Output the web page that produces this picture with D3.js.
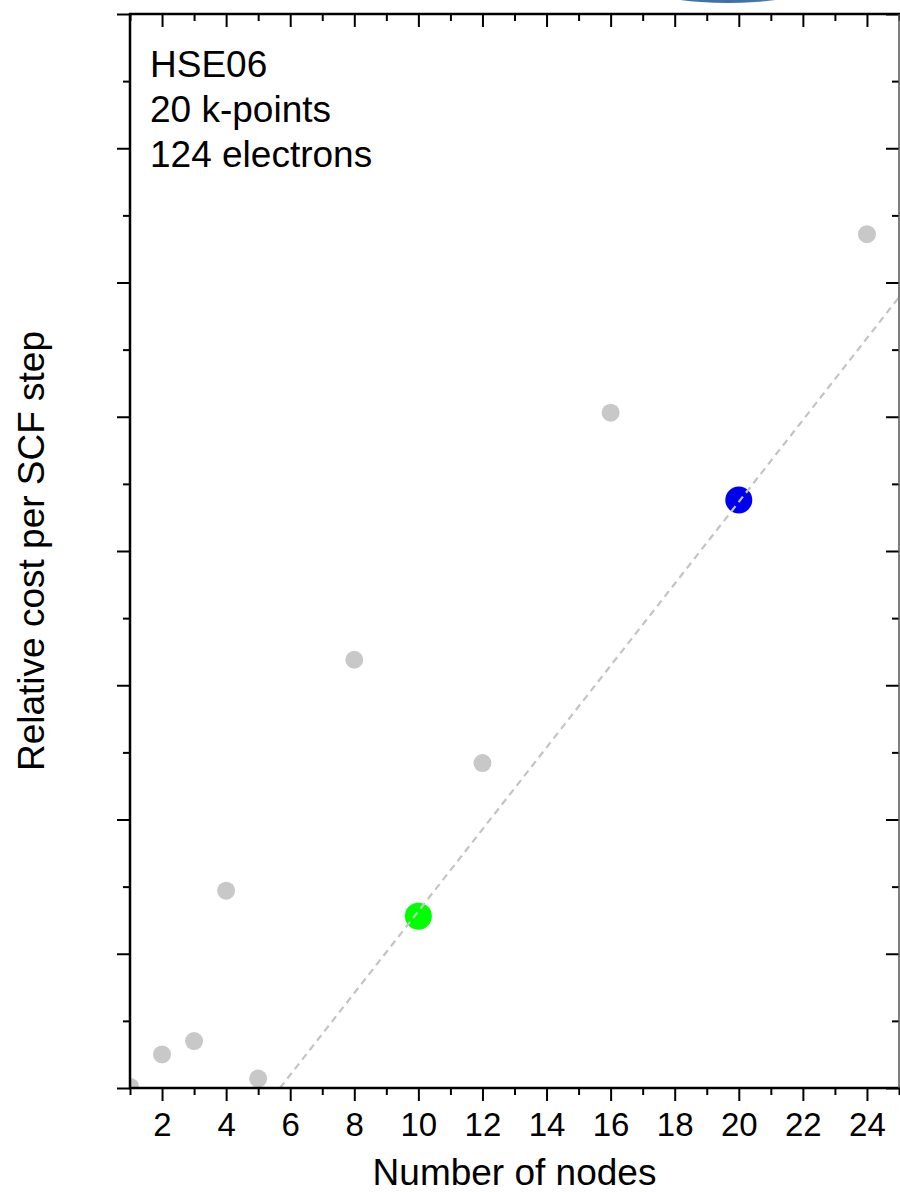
<!DOCTYPE html>
<head>
<meta charset="utf-8">
<title>Relative cost per SCF step</title>
<script type="text/javascript" src="https://d3js.org/d3.v7.min.js"></script>
<style>
    body { margin: 0; background: #fff; }
    text { font-family: "Liberation Sans", Arial, sans-serif; fill: #000; }
</style>
</head>
<body>
<div id="my_dataviz"></div>
<script>

    // data
    var nodes = [1, 2, 3, 4, 5, 8, 12, 16, 24];
    var cost  = [0.01, 0.25, 0.35, 1.47, 0.07, 3.19, 2.42, 5.03, 6.36];
    var highlightNodes  = [10, 20];
    var highlightCost   = [1.28, 4.38];
    var highlightColors = ["#00ff00", "#0000ee"];
    var fitX = [5.68, 25];
    var fitY = [0, 5.89];
    var xTicks = [2, 4, 6, 8, 10, 12, 14, 16, 18, 20, 22, 24];
    var infoLines = ["HSE06", "20 k-points", "124 electrons"];

    var W = 900, H = 1192;
    var margin = {left: 130, right: 899, top: 14, bottom: 1088};

    var svg = d3.select("#my_dataviz")
      .append("svg")
        .attr("width", W)
        .attr("height", H);

    var x = d3.scaleLinear().domain([1, 25]).range([margin.left, margin.right]);
    var y = d3.scaleLinear().domain([0, 8]).range([margin.bottom, margin.top]);

    // bit of a blue shape poking in at the top
    var grad = svg.append("defs").append("linearGradient")
        .attr("id", "blob").attr("x1", "0").attr("x2", "1").attr("y1", "0").attr("y2", "0");
    grad.append("stop").attr("offset", "0%").attr("stop-color", "#5d86b4");
    grad.append("stop").attr("offset", "50%").attr("stop-color", "#3d6ea5");
    grad.append("stop").attr("offset", "100%").attr("stop-color", "#6e92bb");
    svg.append("ellipse")
        .attr("cx", 728).attr("cy", -47).attr("rx", 140).attr("ry", 50)
        .attr("fill", "url(#blob)");

    svg.append("clipPath").attr("id", "plotclip")
      .append("rect")
        .attr("x", margin.left).attr("y", margin.top)
        .attr("width", margin.right - margin.left).attr("height", margin.bottom - margin.top);

    var plot = svg.append("g").attr("clip-path", "url(#plotclip)");

    var fit = fitX.map(function(d, i) { return [d, fitY[i]]; });
    var fitLine = d3.line().x(function(d) { return x(d[0]); }).y(function(d) { return y(d[1]); });

    // gray points
    plot.selectAll("circle.pt")
        .data(nodes)
        .enter()
        .append("circle")
        .attr("class", "pt")
        .attr("cx", function(d) { return x(d); })
        .attr("cy", function(d, i) { return y(cost[i]); })
        .attr("r", 9)
        .attr("fill", "#c8c8c8");

    // highlighted points
    plot.selectAll("circle.hl")
        .data(highlightNodes)
        .enter()
        .append("circle")
        .attr("class", "hl")
        .attr("cx", function(d) { return x(d); })
        .attr("cy", function(d, i) { return y(highlightCost[i]); })
        .attr("r", 13.5)
        .attr("fill", function(d, i) { return highlightColors[i]; });

    // dashed fit line, drawn over the points
    plot.append("path")
        .datum(fit)
        .attr("d", fitLine)
        .attr("fill", "none")
        .attr("stroke", "#c4c4c4")
        .attr("stroke-width", 2.2)
        .attr("stroke-dasharray", "7,5");

    // axes
    var minorX = d3.range(1, 26, 2);
    var majorY = d3.range(0, 9, 1);
    var minorY = d3.range(0.5, 8, 1);

    function styleAxis(g) {
        g.select(".domain").remove();
        g.selectAll(".tick line").attr("stroke", "#000").attr("stroke-width", 2);
    }

    // bottom
    svg.append("g")
      .attr("transform", "translate(0," + margin.bottom + ")")
      .call(d3.axisBottom(x).tickValues(xTicks).tickSize(13).tickPadding(12).tickFormat(d3.format("d")))
      .call(styleAxis)
      .selectAll("text")
      .attr("font-size", null)
      .style("font-size", "33px")
      .style("font-family", "Liberation Sans, Arial, sans-serif");
    svg.append("g")
      .attr("transform", "translate(0," + margin.bottom + ")")
      .call(d3.axisBottom(x).tickValues(minorX).tickSize(7).tickFormat(""))
      .call(styleAxis);

    // top (ticks inside)
    svg.append("g")
      .attr("transform", "translate(0," + margin.top + ")")
      .call(d3.axisBottom(x).tickValues(xTicks).tickSize(13).tickFormat(""))
      .call(styleAxis);
    svg.append("g")
      .attr("transform", "translate(0," + margin.top + ")")
      .call(d3.axisBottom(x).tickValues(minorX).tickSize(7).tickFormat(""))
      .call(styleAxis);

    // left (ticks outside, no labels)
    svg.append("g")
      .attr("transform", "translate(" + margin.left + ",0)")
      .call(d3.axisLeft(y).tickValues(majorY).tickSize(13).tickFormat(""))
      .call(styleAxis);
    svg.append("g")
      .attr("transform", "translate(" + margin.left + ",0)")
      .call(d3.axisLeft(y).tickValues(minorY).tickSize(7).tickFormat(""))
      .call(styleAxis);

    // right (ticks inside)
    svg.append("g")
      .attr("transform", "translate(" + margin.right + ",0)")
      .call(d3.axisLeft(y).tickValues(majorY).tickSize(13).tickFormat(""))
      .call(styleAxis);
    svg.append("g")
      .attr("transform", "translate(" + margin.right + ",0)")
      .call(d3.axisLeft(y).tickValues(minorY).tickSize(7).tickFormat(""))
      .call(styleAxis);

    // frame
    svg.append("line").attr("x1", margin.left).attr("x2", margin.left)
        .attr("y1", margin.top - 1).attr("y2", margin.bottom + 1)
        .attr("stroke", "#000").attr("stroke-width", 2.5);
    svg.append("line").attr("x1", margin.left - 1).attr("x2", W)
        .attr("y1", margin.bottom).attr("y2", margin.bottom)
        .attr("stroke", "#000").attr("stroke-width", 2.5);
    svg.append("line").attr("x1", margin.left - 1).attr("x2", W)
        .attr("y1", margin.top).attr("y2", margin.top)
        .attr("stroke", "#000").attr("stroke-width", 2.5);
    svg.append("line").attr("x1", margin.right).attr("x2", margin.right)
        .attr("y1", margin.top).attr("y2", margin.bottom)
        .attr("stroke", "#555").attr("stroke-width", 1.5);

    // axis titles
    svg.append("text")
        .attr("x", (margin.left + margin.right) / 2)
        .attr("y", 1185)
        .attr("text-anchor", "middle")
        .style("font-size", "37px")
        .text("Number of nodes");

    svg.append("text")
        .attr("transform", "translate(44,551) rotate(-90)")
        .attr("text-anchor", "middle")
        .style("font-size", "37px")
        .text("Relative cost per SCF step");

    // info text
    svg.selectAll("text.info")
        .data(infoLines)
        .enter()
        .append("text")
        .attr("class", "info")
        .attr("x", 150)
        .attr("y", function(d, i) { return 77 + i * 45; })
        .style("font-size", "37px")
        .text(function(d) { return d; });

</script>
</body>
